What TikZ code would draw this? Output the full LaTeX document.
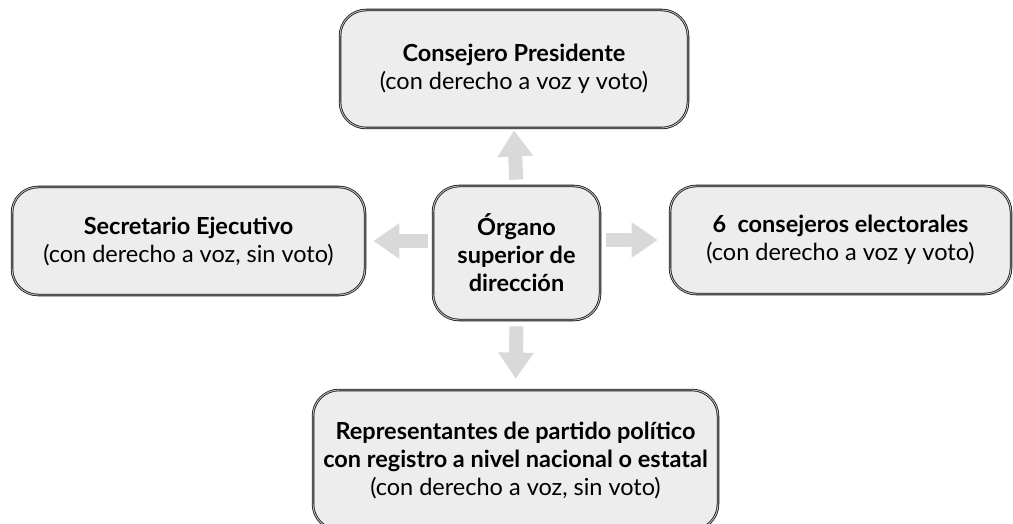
\documentclass[tikz,border=0pt]{standalone}
\usepackage{fontspec}
\setmainfont{Lato}
\usetikzlibrary{arrows.meta}
\definecolor{boxfill}{HTML}{EDEDED}
\definecolor{arrowgray}{HTML}{D9D9D9}
\tikzset{
  organ/.style={draw=black!90, double=gray!50, double distance=0.9pt,
    line width=0.8pt, fill=boxfill, rounded corners=26pt, align=center,
    font=\fontsize{23.5}{28}\selectfont, inner sep=0pt},
  flow/.style={arrowgray, line width=14pt, -{Triangle[width=34pt,length=26pt]}}
}
\begin{document}
\begin{tikzpicture}[x=1pt,y=-1pt]
  \useasboundingbox (0,0) rectangle (1013,524);
  % cajas
  \node[organ, minimum width=348pt, minimum height=118pt] (pres) at (514,69)
    {\textbf{Consejero Presidente}\\(con derecho a voz y voto)};
  \node[organ, minimum width=167pt, minimum height=134pt] (org) at (516.5,253)
    {\textbf{Órgano}\\\textbf{superior de}\\\textbf{dirección}};
  \node[organ, minimum width=353pt, minimum height=108pt] (secr) at (188.5,241)
    {\textbf{Secretario Ejecutivo}\\(con derecho a voz, sin voto)};
  \node[organ, minimum width=341pt, minimum height=108pt] (cons) at (840.5,240)
    {\textbf{6\ \ consejeros electorales}\\(con derecho a voz y voto)};
  \node[organ, minimum width=405pt, minimum height=140pt] (rep) at (515.5,460)
    {\textbf{Representantes de partido político}\\\textbf{con registro a nivel nacional o estatal}\\(con derecho a voz, sin voto)};
  % flechas
  \draw[flow, shorten <=6pt, shorten >=2pt] (org.north) -- (pres.south);
  \draw[flow, shorten <=5pt, shorten >=8pt] (org.west |- secr.east) -- (secr.east);
  \draw[flow, shorten <=6pt, shorten >=12pt] (org.east |- cons.west) -- (cons.west);
  \draw[flow, shorten <=6pt, shorten >=11pt] (org.south) -- (rep.north);
\end{tikzpicture}
\end{document}
